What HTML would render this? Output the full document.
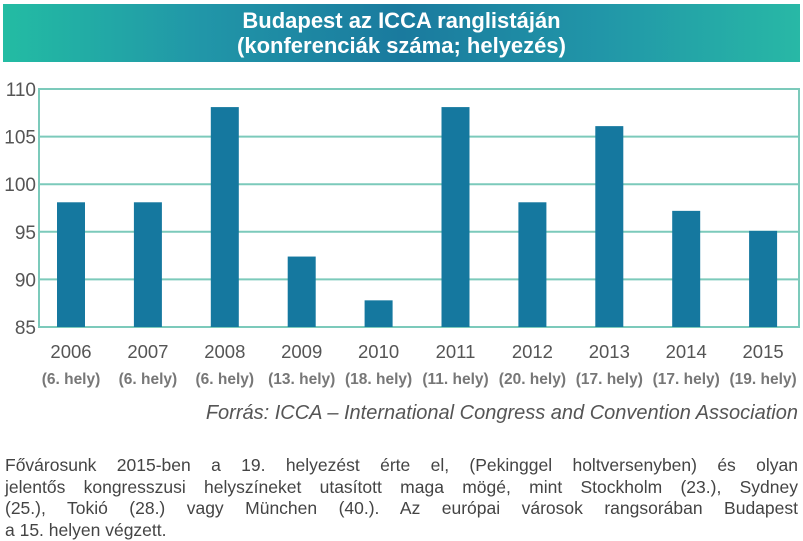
<!DOCTYPE html>
<html><head><meta charset="utf-8"><style>
body{margin:0;width:803px;height:538px;background:#fff;font-family:"Liberation Sans",sans-serif;position:relative;overflow:hidden}
#hdr{position:absolute;left:3px;top:4px;width:797px;height:58px;background:linear-gradient(90deg,#23bca3 0%,#2196a8 25%,#1a7a9e 50%,#2196a8 75%,#28b8a6 100%);color:#fff;font-weight:bold;font-size:22px;line-height:25px;text-align:center;padding-top:4px;box-sizing:border-box}
#src{position:absolute;right:5px;top:402px;font-style:italic;font-size:20px;color:#555}
#para{position:absolute;left:5px;top:455px;width:793px;font-size:17.5px;line-height:21.5px;color:#444}
#para div{text-align:justify;text-align-last:justify;white-space:nowrap}
#para div.last{text-align-last:left}
</style></head><body>
<div id="hdr">Budapest az ICCA ranglistáján<br>(konferenciák száma; helyezés)</div>
<svg id="chart" width="803" height="400" style="position:absolute;left:0;top:0"></svg>
<div id="src">Forrás: ICCA – International Congress and Convention Association</div>
<div id="para">
<div style="white-space:normal">Fővárosunk 2015-ben a 19. helyezést érte el, (Pekinggel holtversenyben) és olyan</div>
<div style="white-space:normal">jelentős kongresszusi helyszíneket utasított maga mögé, mint Stockholm (23.), Sydney</div>
<div style="white-space:normal">(25.), Tokió (28.) vagy München (40.). Az európai városok rangsorában Budapest</div>
<div class="last">a 15. helyen végzett.</div>
</div>
<script>
const years=["2006","2007","2008","2009","2010","2011","2012","2013","2014","2015"];
const ranks=["(6. hely)","(6. hely)","(6. hely)","(13. hely)","(18. hely)","(11. hely)","(20. hely)","(17. hely)","(17. hely)","(19. hely)"];
const values=[98.1,98.1,108.1,92.4,87.8,108.1,98.1,106.1,97.2,95.1];
const yTicks=[85,90,95,100,105,110];
const NS="http://www.w3.org/2000/svg";
const svg=document.getElementById('chart');
const L=39,R=799,T=89,B=327,yMin=85,yMax=110;
const y=v=>B-(v-yMin)/(yMax-yMin)*(B-T);
const x=i=>71+i*76.9;
function mk(t,a){const e=document.createElementNS(NS,t);for(const k in a)e.setAttribute(k,a[k]);svg.appendChild(e);return e;}
const frame=mk('rect',{x:L,y:T,width:R-L,height:B-T,fill:'none',stroke:'#7ccabb','stroke-width':2});


yTicks.forEach(v=>{
  const g=mk('line',{x1:L,x2:R,y1:y(v),y2:y(v),stroke:'#7ccabb','stroke-width':2});
  
  
  const t=mk('text',{x:L-3,y:y(v)+7,'text-anchor':'end','font-size':19,fill:'#555','font-family':'Liberation Sans'});
  t.textContent=v;
  
  
});
values.forEach((v,i)=>{
  const b=mk('rect',{x:x(i)-14,y:y(v),width:28,height:B-y(v),fill:'#15789f'});
  
  
  const t=mk('text',{x:x(i),y:358,'text-anchor':'middle','font-size':18.5,fill:'#555','font-family':'Liberation Sans'});
  t.textContent=years[i];
  
  
  const r=mk('text',{x:x(i),y:384,'text-anchor':'middle','font-size':15.5,'font-weight':'bold',fill:'#777','font-family':'Liberation Sans'});
  r.textContent=ranks[i];
  
  
});
</script>
</body></html>
